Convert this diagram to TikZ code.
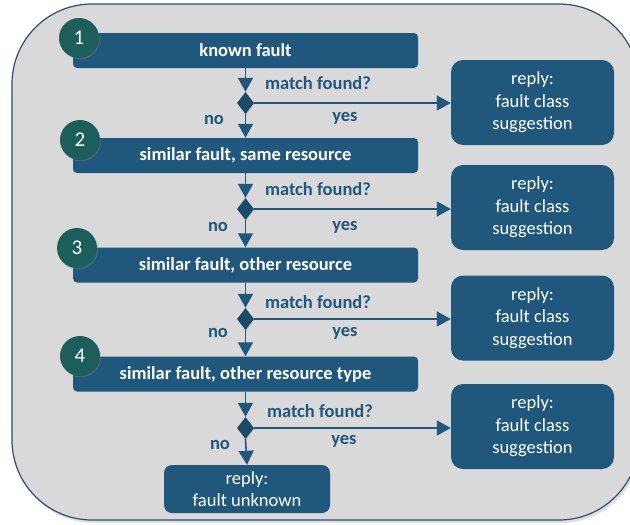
\documentclass[tikz,border=0pt]{standalone}
\usepackage{fontspec}
\setmainfont{Carlito}
\usetikzlibrary{arrows.meta,shapes.geometric,shadows}
\definecolor{boxblue}{HTML}{1F587C}
\definecolor{lblblue}{HTML}{1F587C}
\definecolor{teal}{HTML}{1B5E5A}
\definecolor{bggray}{HTML}{D9D9D9}
\definecolor{frame}{HTML}{2A4F72}
\tikzset{
  stepbox/.style={draw=none,fill=boxblue,rounded corners=4pt,minimum width=345pt,minimum height=35pt,text=white,font=\fontsize{18.5}{20}\selectfont\bfseries,inner sep=0pt},
  replybox/.style={draw=none,fill=boxblue,rounded corners=12pt,minimum width=163pt,minimum height=85pt,text=white,font=\fontsize{18.5}{22.5}\selectfont,align=center,inner sep=0pt},
  numcirc/.style={circle,fill=teal,minimum size=40pt,inner sep=0pt,text=white,font=\fontsize{21}{22}\selectfont,drop shadow={shadow xshift=1pt,shadow yshift=-1.5pt,opacity=0.35}},
  dec/.style={diamond,fill=boxblue!85!black,minimum width=17pt,minimum height=22pt,inner sep=0pt,aspect=0.77,drop shadow={shadow xshift=0.5pt,shadow yshift=-1pt,opacity=0.3}},
  lbl/.style={text=lblblue,font=\fontsize{18.5}{20}\selectfont\bfseries,inner sep=0pt},
  conn/.style={draw=boxblue,line width=1.6pt,-{Triangle[length=14pt,width=15pt]}},
}
\begin{document}
\begin{tikzpicture}[x=1pt,y=-1pt]
\useasboundingbox (0,0) rectangle (630,525);
\begin{scope}
\clip (0,0) rectangle (630,525);
\fill[black,opacity=0.12] (14,7) [rounded corners=80pt] rectangle (641,523);
\draw[fill=bggray,draw=frame,line width=1.2pt,rounded corners=80pt] (12,4) rectangle (639,520);
\end{scope}
% step boxes
\node[stepbox] (s1) at (245.5,50.5) {known fault};
\node[stepbox] (s2) at (245.5,155.5) {similar fault, same resource};
\node[stepbox] (s3) at (245.5,265) {similar fault, other resource};
\node[stepbox] (s4) at (245.5,374) {similar fault, other resource type};
\node[replybox,minimum width=166pt,minimum height=48pt,rounded corners=8pt] (fu) at (247,489) {reply:\\fault unknown};
% circles
\node[numcirc] (c1) at (79,38) {1};
\node[numcirc] (c2) at (80,140) {2};
\node[numcirc] (c3) at (77,248) {3};
\node[numcirc] (c4) at (80,356) {4};
% decisions
\node[dec] (d1) at (245.5,103) {};
\node[dec] (d2) at (245.5,209) {};
\node[dec] (d3) at (245.5,319) {};
\node[dec] (d4) at (245.5,428) {};
% replies
\node[replybox] (r1) at (532.5,102.5) {reply:\\fault class\\suggestion};
\node[replybox] (r2) at (532.5,207.5) {reply:\\fault class\\suggestion};
\node[replybox] (r3) at (532.5,318) {reply:\\fault class\\suggestion};
\node[replybox] (r4) at (532.5,426.5) {reply:\\fault class\\suggestion};
% connectors
\foreach \s/\d/\n/\r in {s1/d1/s2/r1, s2/d2/s3/r2, s3/d3/s4/r3, s4/d4/fu/r4}{
  \draw[conn] (\s.south) -- (\d.north);
  \draw[conn] (\d.south) -- (\n.north);
  \draw[conn] (\d.east) -- (\d.east -| \r.west);
}
% labels
\node[lbl] (m1) at (318,83) {match found?};
\node[lbl] (y1) at (345,118) {yes};
\node[lbl] (n1) at (214,120) {no};
\node[lbl] (m2) at (318,189) {match found?};
\node[lbl] (y2) at (345,227) {yes};
\node[lbl] (n2) at (218,227) {no};
\node[lbl] (m3) at (318,302) {match found?};
\node[lbl] (y3) at (345,333) {yes};
\node[lbl] (n3) at (218,333) {no};
\node[lbl] (m4) at (320,411) {match found?};
\node[lbl] (y4) at (344,441) {yes};
\node[lbl] (n4) at (220,445) {no};
\end{tikzpicture}
\end{document}
